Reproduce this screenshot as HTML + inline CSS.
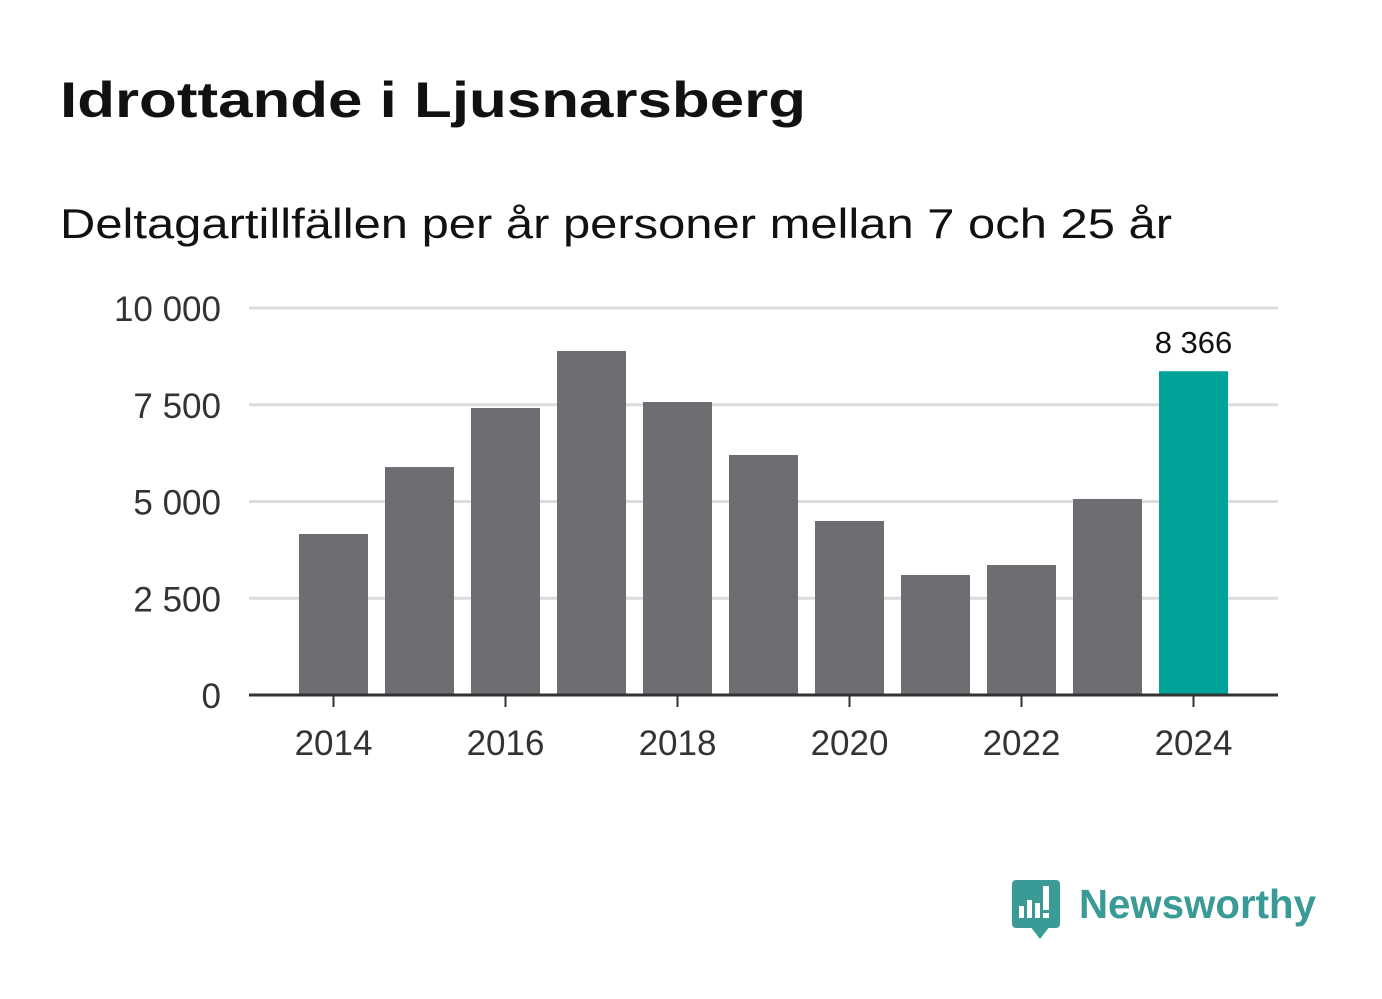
<!DOCTYPE html>
<html><head><meta charset="utf-8"><style>
html,body{margin:0;padding:0;background:#fff;width:1382px;height:999px;overflow:hidden}
text{font-family:"Liberation Sans",sans-serif}
</style></head><body>
<svg id="chart" width="1382" height="999" viewBox="0 0 1382 999" xmlns="http://www.w3.org/2000/svg">
<text x="60" y="117" font-size="50" font-weight="bold" fill="#111" textLength="746" lengthAdjust="spacingAndGlyphs">Idrottande i Ljusnarsberg</text>
<text x="60" y="238" font-size="42" fill="#111" textLength="1112" lengthAdjust="spacingAndGlyphs">Deltagartillfällen per år personer mellan 7 och 25 år</text>
<g id="grid"></g><g id="bars"></g><g id="axes"></g>
<g>
<rect x="1012" y="880" width="48" height="48" rx="4" fill="#3a9a95"/>
<polygon points="1030,926 1050,926 1040,939" fill="#3a9a95"/>
<rect x="1019" y="906" width="5" height="12" fill="#fff"/>
<rect x="1027" y="900" width="5" height="18" fill="#fff"/>
<rect x="1035" y="903" width="5" height="15" fill="#fff"/>
<rect x="1043" y="886" width="6" height="24" fill="#fff"/>
<rect x="1043" y="913" width="6" height="5" fill="#fff"/>
<text x="1079" y="918" font-size="41" font-weight="bold" fill="#3a9a95" textLength="237" lengthAdjust="spacingAndGlyphs">Newsworthy</text>
</g>
</svg>
<script>
const years=[2014,2015,2016,2017,2018,2019,2020,2021,2022,2023,2024];
const values=[4160,5890,7416,8889,7571,6202,4496,3101,3359,5065,8366];
const yTicks=[0,2500,5000,7500,10000];
const yTickLabels=["0","2 500","5 000","7 500","10 000"];
const xTickYears=[2014,2016,2018,2020,2022,2024];
const NS="http://www.w3.org/2000/svg";
const y0=695,y1=308,vmax=10000;
const yScale=v=>y0-(v/vmax)*(y0-y1);
const x0=333.5,step=86;
const xScale=yr=>x0+(yr-years[0])*step;
const barW=69;
function mk(tag,attrs,parent){const e=document.createElementNS(NS,tag);for(const k in attrs)e.setAttribute(k,attrs[k]);parent.appendChild(e);return e;}
const grid=document.getElementById('grid'),bars=document.getElementById('bars'),axes=document.getElementById('axes');
yTicks.forEach((t,i)=>{
  if(t>0){const l=mk('line',{x1:249,x2:1278,y1:yScale(t),y2:yScale(t),stroke:'#dcdcdc','stroke-width':3},grid);
  
  }
  const tx=mk('text',{x:221,y:yScale(t)+13,'font-size':35,fill:'#333','text-anchor':'end'},axes);
  tx.textContent=yTickLabels[i];
  
  
});
years.forEach((yr,i)=>{
  const last=i===years.length-1;
  const r=mk('rect',{x:xScale(yr)-barW/2,y:yScale(values[i]),width:barW,height:y0-yScale(values[i]),fill:last?'#00a399':'#6e6d72'},bars);
  
  
  if(last){const t=mk('text',{x:xScale(yr),y:yScale(values[i])-18,'font-size':31,fill:'#111','text-anchor':'middle'},bars);
  t.textContent=values[i].toLocaleString('sv-SE').replace(/\s/g,' ');
  
  }
});
const ax=mk('line',{x1:249,x2:1278,y1:y0,y2:y0,stroke:'#333','stroke-width':3},axes);


xTickYears.forEach(yr=>{
  mk('line',{x1:xScale(yr),x2:xScale(yr),y1:y0,y2:y0+12,stroke:'#333','stroke-width':2},axes);
  const t=mk('text',{x:xScale(yr),y:755,'font-size':35,fill:'#333','text-anchor':'middle'},axes);
  t.textContent=yr;
  
  
});
</script>
</body></html>
